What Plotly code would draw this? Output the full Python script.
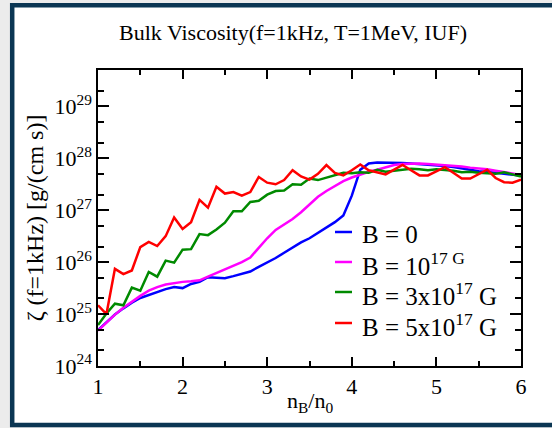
import plotly.graph_objects as go

# density n_B/n_0 and log10 of bulk viscosity zeta [g/(cm s)]
nb = [1.0, 1.1, 1.2, 1.3, 1.4, 1.5, 1.6, 1.7, 1.8, 1.9,
      2.0, 2.1, 2.2, 2.3, 2.4, 2.5, 2.6, 2.7, 2.8, 2.9,
      3.0, 3.1, 3.2, 3.3, 3.4, 3.5, 3.6, 3.7, 3.8, 3.9,
      4.0, 4.1, 4.2, 4.3, 4.4, 4.5, 4.6, 4.7, 4.8, 4.9,
      5.0, 5.1, 5.2, 5.3, 5.4, 5.5, 5.6, 5.7, 5.8, 5.9, 6.0]

log_b0 = [24.69, 24.85, 24.99, 25.11, 25.22, 25.31, 25.37, 25.42, 25.48, 25.52,
          25.50, 25.58, 25.62, 25.71, 25.70, 25.69, 25.73, 25.78, 25.82, 25.91,
          25.99, 26.08, 26.18, 26.28, 26.38, 26.46, 26.56, 26.66, 26.77, 26.90,
          27.28, 27.78, 27.90, 27.92, 27.92, 27.92, 27.91, 27.90, 27.89, 27.88,
          27.87, 27.85, 27.83, 27.81, 27.78, 27.75, 27.74, 27.72, 27.70, 27.68, 27.67]

log_b1 = [24.68, 24.84, 24.99, 25.12, 25.24, 25.35, 25.45, 25.52, 25.57, 25.60,
          25.62, 25.63, 25.65, 25.72, 25.79, 25.86, 25.93, 26.00, 26.09, 26.28,
          26.46, 26.62, 26.73, 26.83, 26.96, 27.12, 27.26, 27.37, 27.47, 27.56,
          27.63, 27.69, 27.74, 27.78, 27.83, 27.87, 27.89, 27.90, 27.90, 27.89,
          27.88, 27.87, 27.86, 27.84, 27.82, 27.81, 27.79, 27.76, 27.73, 27.70, 27.68]

log_b3 = [24.79, 25.01, 25.20, 25.17, 25.51, 25.45, 25.81, 25.72, 26.03, 25.99,
          26.24, 26.25, 26.54, 26.52, 26.63, 26.76, 26.98, 26.98, 27.16, 27.18,
          27.30, 27.37, 27.38, 27.50, 27.49, 27.61, 27.58, 27.63, 27.67, 27.72,
          27.71, 27.73, 27.72, 27.78, 27.74, 27.76, 27.77, 27.80, 27.79, 27.77,
          27.79, 27.78, 27.76, 27.73, 27.74, 27.72, 27.71, 27.70, 27.73, 27.69, 27.65]

log_b5 = [25.17, 25.00, 25.87, 25.77, 25.84, 26.29, 26.39, 26.31, 26.50, 26.86,
          26.64, 26.77, 27.20, 27.05, 27.45, 27.32, 27.35, 27.28, 27.35, 27.64,
          27.53, 27.50, 27.58, 27.77, 27.65, 27.59, 27.70, 27.87, 27.72, 27.67,
          27.77, 27.88, 27.77, 27.73, 27.69, 27.78, 27.87, 27.77, 27.67, 27.67,
          27.75, 27.83, 27.72, 27.61, 27.61, 27.70, 27.78, 27.62, 27.54, 27.53, 27.59]

series = [
    ("B = 0", log_b0, "#0000ff"),
    ("B = 10<sup>17 G</sup>", log_b1, "#ff00ff"),
    ("B = 3x10<sup>17</sup> G", log_b3, "#008a00"),
    ("B = 5x10<sup>17</sup> G", log_b5, "#ff0000"),
]

ytick_vals = [1e24, 1e25, 1e26, 1e27, 1e28, 1e29]
ytick_text = ["10<sup>24</sup>", "10<sup>25</sup>", "10<sup>26</sup>",
              "10<sup>27</sup>", "10<sup>28</sup>", "10<sup>29</sup>"]

FONT = "Liberation Serif"

# plot area in pixels: x 98..521, y 70..366
def px(x):
    return (x - 98) / 423

def py(y):
    return (366 - y) / 296

fig = go.Figure()
for name, logs, color in series:
    fig.add_trace(go.Scatter(
        x=nb, y=[10 ** v for v in logs], mode="lines", name=name,
        line=dict(color=color, width=2.5), showlegend=False
    ))

# window frame around the figure
fig.add_shape(type="rect", xref="paper", yref="paper",
              x0=px(12.2), x1=px(580), y0=py(425), y1=py(5.3),
              line=dict(color="#0b3653", width=4.5), fillcolor="white",
              layer="below")

# hand-placed legend (short line samples like the original)
leg_y = [232, 262, 292, 323]
for (name, logs, color), yy in zip(series, leg_y):
    fig.add_shape(type="line", xref="paper", yref="paper",
                  x0=px(335), x1=px(352), y0=py(yy), y1=py(yy),
                  line=dict(color=color, width=2.5))
    fig.add_annotation(text=name, xref="paper", yref="paper",
                       x=px(360), y=py(yy + 2), xanchor="left", yanchor="middle",
                       showarrow=False, font=dict(size=25, family=FONT))

# x axis title placed by hand
fig.add_annotation(text="n<sub>B</sub>/n<sub>0</sub>", xref="paper", yref="paper",
                   x=px(310), y=py(402), xanchor="center", yanchor="middle",
                   showarrow=False, font=dict(size=22, family=FONT))

fig.update_layout(
    width=552, height=428,
    margin=dict(l=98, r=31, t=70, b=62, autoexpand=False),
    paper_bgcolor="#ececec",
    plot_bgcolor="white",
    font=dict(family=FONT, color="black"),
    title=dict(text="Bulk Viscosity(f=1kHz, T=1MeV, IUF)",
               x=293 / 552, xanchor="center", y=1 - 32 / 428, yanchor="middle",
               font=dict(size=22, family=FONT)),
    showlegend=False,
)

fig.update_xaxes(
    range=[1, 6], dtick=1, showgrid=False, zeroline=False, automargin=False,
    showline=True, linecolor="black", linewidth=1.5, mirror="allticks",
    ticks="inside", ticklen=9, tickcolor="black", tickwidth=1.5,
    minor=dict(dtick=0.5, ticks="inside", ticklen=5, tickcolor="black", showgrid=False),
    tickfont=dict(size=22, family=FONT),
)
fig.update_yaxes(
    type="log", range=[24, 29.7], showgrid=False, zeroline=False, automargin=False,
    tickvals=ytick_vals, ticktext=ytick_text,
    showline=True, linecolor="black", linewidth=1.5, mirror="allticks",
    ticks="inside", ticklen=11, tickcolor="black", tickwidth=1.5,
    minor=dict(ticks="inside", ticklen=6, tickcolor="black", showgrid=False),
    tickfont=dict(size=22, family=FONT),
    title=dict(text="ζ (f=1kHz) [g/(cm s)]", font=dict(size=24, family=FONT), standoff=4),
)

# the page body has a default 8px margin; drop it so the figure fills the window
fig.write_html("out.html", config={"displayModeBar": False},
               post_script="document.body.style.margin='0';")
